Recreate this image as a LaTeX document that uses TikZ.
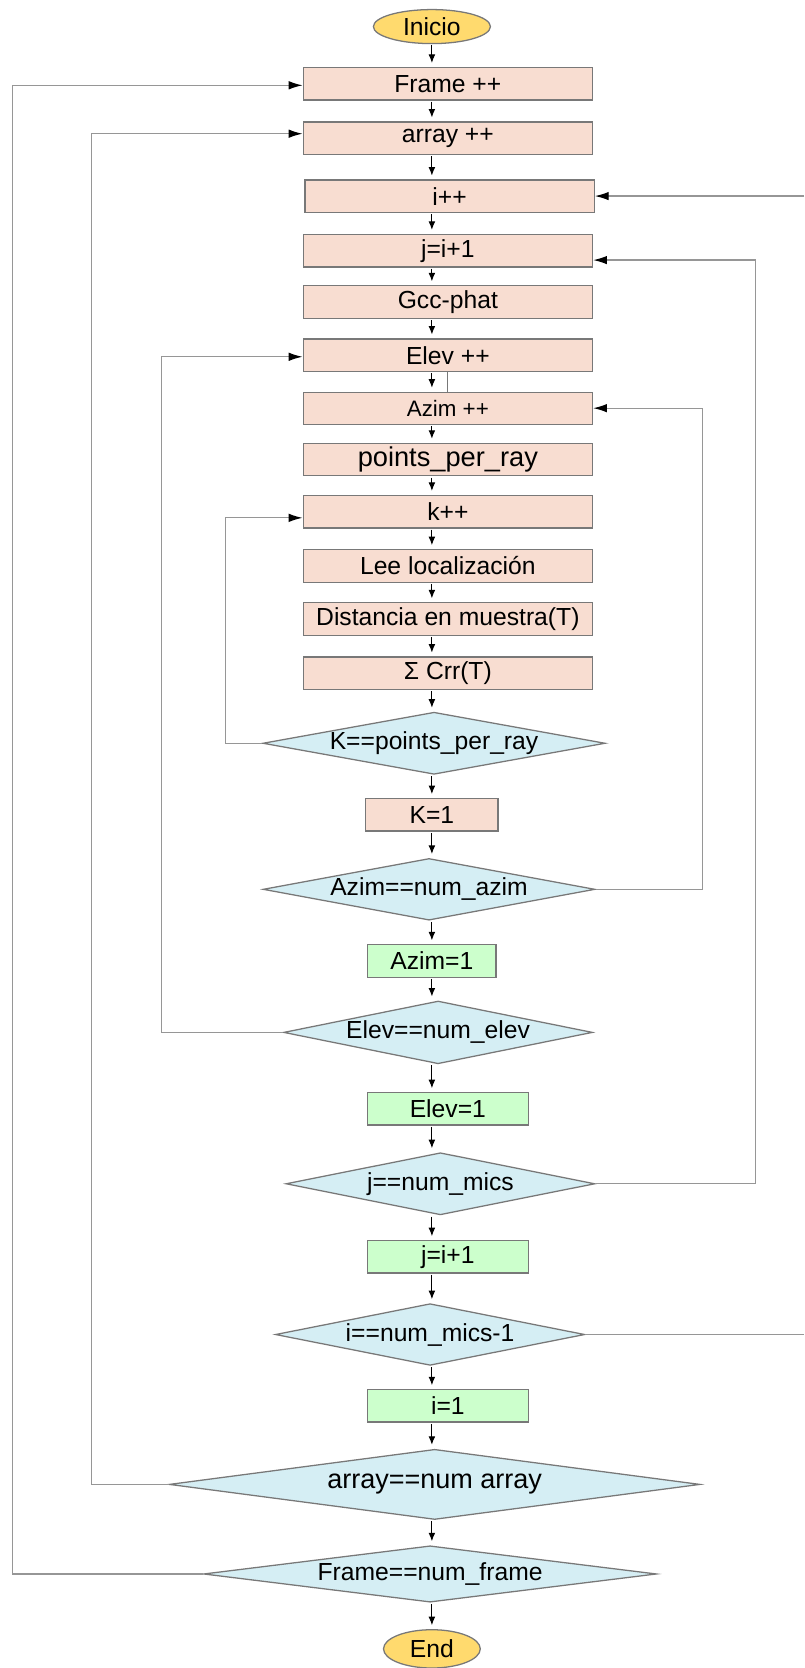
\documentclass[tikz,border=0pt]{standalone}
\usepackage{fontspec}
\setmainfont{Liberation Sans}
\usetikzlibrary{shapes.geometric,arrows.meta,calc}

\definecolor{pinkfill}{RGB}{248,221,209}
\definecolor{greenfill}{RGB}{204,255,204}
\definecolor{bluefill}{RGB}{213,238,244}
\definecolor{yellowfill}{RGB}{255,218,110}
\definecolor{edgegrey}{RGB}{120,120,120}
\definecolor{loopgrey}{RGB}{150,150,150}

\begin{document}
\begin{tikzpicture}[x=0.5pt,y=-0.5pt,
  base/.style={draw=edgegrey,line width=0.6pt,inner sep=0pt,align=center,
    font=\fontsize{11.6pt}{14pt}\selectfont},
  proc/.style={base,rectangle,fill=pinkfill,minimum width=136pt,minimum height=15.3pt},
  setbox/.style={base,rectangle,fill=greenfill,minimum height=15.2pt},
  decision/.style={base,diamond,fill=bluefill},
  term/.style={base,ellipse,fill=yellowfill},
  flow/.style={draw=black,line width=0.5pt,-{Latex[length=4pt,width=3.2pt]},
    shorten <=0.5pt,shorten >=1.8pt},
  back/.style={draw=loopgrey,line width=0.6pt,
    -{Latex[color=black,length=6.5pt,width=4pt]}},
  backline/.style={draw=loopgrey,line width=0.6pt}]

\useasboundingbox (0,0) rectangle (756,1568);

% process boxes
\node[term,minimum width=55pt,minimum height=16pt] (start) at (406,25) {Inicio};
\node[proc] (frame) at (421,78.7) {Frame ++};
\node[proc] (arr) at (421,130) {array ++};
\node[proc] (ipp) at (422.6,184.6) {i++};
\node[proc] (jpp) at (421,235.6) {j=i+1};
\node[proc] (gcc) at (421,284) {Gcc-phat};
\node[proc] (elev) at (421,334) {Elev ++};
\node[proc,font=\fontsize{10.5pt}{13pt}\selectfont] (azim) at (421,384) {Azim ++};
\node[proc,font=\fontsize{12.8pt}{15pt}\selectfont] (ppr) at (421,432) {points\_per\_ray};
\node[proc] (kpp) at (421,481) {k++};
\node[proc] (lee) at (421,532) {Lee localización};
\node[proc] (dist) at (421,582) {Distancia en muestra(T)};
\node[proc] (crr) at (421,633) {Σ Crr(T)};

% decisions and resets
\node[decision,minimum width=160.9pt,minimum height=29.2pt] (dk) at (408,698.7)
  {\makebox[0pt]{K==points\_per\_ray}};
\node[proc,minimum width=62.2pt] (k1) at (406,766) {K=1};
\node[decision,minimum width=156pt,minimum height=29pt] (dazim) at (403.3,836)
  {\makebox[0pt]{Azim==num\_azim}};
\node[setbox,minimum width=60.3pt] (azim1) at (406,903.4) {Azim=1};
\node[decision,minimum width=145.2pt,minimum height=29.5pt] (delev) at (411.8,970.5)
  {\makebox[0pt]{Elev==num\_elev}};
\node[setbox,minimum width=75.5pt] (elev1) at (421,1042.4) {Elev=1};
\node[decision,minimum width=145.2pt,minimum height=29.2pt] (dj) at (414,1112.8)
  {\makebox[0pt]{j==num\_mics}};
\node[setbox,minimum width=75.5pt] (j1) at (421,1181.5) {j=i+1};
\node[decision,minimum width=145.4pt,minimum height=29pt] (di) at (404.3,1254.5)
  {\makebox[0pt]{i==num\_mics-1}};
\node[setbox,minimum width=75.5pt] (i1) at (421,1321.6) {i=1};
\node[decision,minimum width=249.5pt,minimum height=33pt,
  font=\fontsize{12.7pt}{15pt}\selectfont] (darr) at (408.6,1395.4)
  {\makebox[0pt]{array==num array}};
\node[decision,minimum width=212.9pt,minimum height=26.5pt] (dframe) at (404.3,1479.6)
  {\makebox[0pt]{Frame==num\_frame}};
\node[term,minimum width=45.5pt,minimum height=18pt] (stop) at (406,1550) {End};

% main column of arrows
\coordinate (col) at (406,0);
\foreach \a/\b in {start/frame,frame/arr,arr/ipp,ipp/jpp,jpp/gcc,gcc/elev,elev/azim,
  azim/ppr,ppr/kpp,kpp/lee,lee/dist,dist/crr,crr/dk,dk/k1,k1/dazim,dazim/azim1,
  azim1/delev,delev/elev1,elev1/dj,dj/j1,j1/di,di/i1,i1/darr,darr/dframe,dframe/stop}
  \draw[flow] (\a.south -| col) -- (\b.north -| col);

% short joint between Elev ++ and Azim ++
\draw[draw=edgegrey,line width=0.5pt] (elev.south) -- (azim.north);

% loop-back connectors
\coordinate (lf) at (12,80.2);
\coordinate (la) at (85.8,125.7);
\coordinate (le) at (152,335.4);
\coordinate (lk) at (212.2,486.8);
\coordinate (raz) at (660.6,383.7);
\coordinate (rj) at (710,244.5);
\coordinate (ri) at (756,184.3);

\draw[back] (dframe.west) -| (lf) -- (lf -| frame.west);
\draw[back] (darr.west) -| (la) -- (la -| arr.west);
\draw[back] (delev.west) -| (le) -- (le -| elev.west);
\draw[back] (dk.west) -| (lk) -- (lk -| kpp.west);
\draw[back] (dazim.east) -| (raz) -- (raz -| azim.east);
\draw[back] (dj.east) -| (rj) -- (rj -| jpp.east);
\draw[backline] (di.east) -- (di.east -| ri);
\draw[back] (ri) -- (ri -| ipp.east);

\end{tikzpicture}
\end{document}
